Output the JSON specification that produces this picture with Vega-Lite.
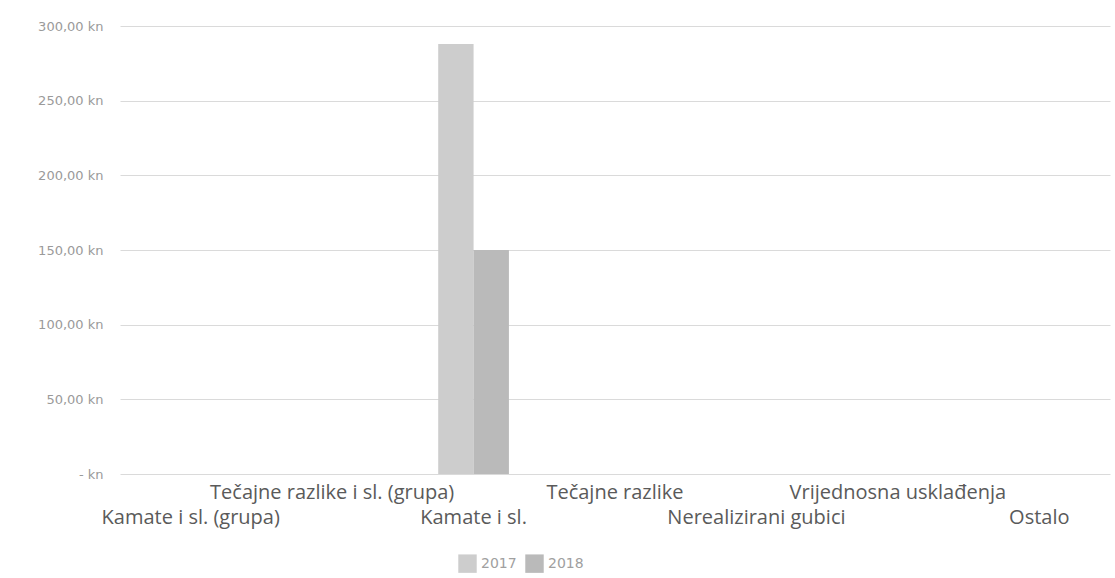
{
  "$schema": "https://vega.github.io/schema/vega-lite/v6.json",
  "autosize": "none",
  "width": 990,
  "height": 448,
  "padding": {"left": 120, "top": 26, "right": 5, "bottom": 104},
  "background": "white",
  "data": {
    "values": [
      {"kategorija": "Kamate i sl. (grupa)", "godina": "2017", "iznos": 0},
      {"kategorija": "Kamate i sl. (grupa)", "godina": "2018", "iznos": 0},
      {"kategorija": "Tečajne razlike i sl. (grupa)", "godina": "2017", "iznos": 0},
      {"kategorija": "Tečajne razlike i sl. (grupa)", "godina": "2018", "iznos": 0},
      {"kategorija": "Kamate i sl.", "godina": "2017", "iznos": 288},
      {"kategorija": "Kamate i sl.", "godina": "2018", "iznos": 150},
      {"kategorija": "Tečajne razlike", "godina": "2017", "iznos": 0},
      {"kategorija": "Tečajne razlike", "godina": "2018", "iznos": 0},
      {"kategorija": "Nerealizirani gubici", "godina": "2017", "iznos": 0},
      {"kategorija": "Nerealizirani gubici", "godina": "2018", "iznos": 0},
      {"kategorija": "Vrijednosna usklađenja", "godina": "2017", "iznos": 0},
      {"kategorija": "Vrijednosna usklađenja", "godina": "2018", "iznos": 0},
      {"kategorija": "Ostalo", "godina": "2017", "iznos": 0},
      {"kategorija": "Ostalo", "godina": "2018", "iznos": 0}
    ]
  },
  "mark": {"type": "bar"},
  "encoding": {
    "x": {
      "field": "kategorija",
      "type": "nominal",
      "sort": null,
      "scale": {"paddingInner": 0.5, "paddingOuter": 0.25},
      "axis": {
        "title": null,
        "labelAngle": 0,
        "labelFont": "Open Sans",
        "labelFontSize": 20,
        "labelColor": "#5a5a5a",
        "labelOverlap": false,
        "labelLimit": 400,
        "ticks": false,
        "domain": false,
        "labelBaseline": "top",
        "labelPadding": {"expr": "indexof(['Tečajne razlike i sl. (grupa)', 'Tečajne razlike', 'Vrijednosna usklađenja'], datum.value) >= 0 ? 8 : 33"}
      }
    },
    "xOffset": {"field": "godina", "type": "nominal"},
    "y": {
      "field": "iznos",
      "type": "quantitative",
      "scale": {"domain": [0, 300], "nice": false},
      "axis": {
        "title": null,
        "values": [0, 50, 100, 150, 200, 250, 300],
        "labelExpr": "datum.value == 0 ? '-   kn' : replace(format(datum.value, '.2f'), '.', ',') + ' kn'",
        "labelFont": "DejaVu Sans",
        "labelFontSize": 13,
        "labelColor": "#9a9a9a",
        "labelPadding": 17,
        "ticks": false,
        "domain": false,
        "grid": true,
        "gridColor": "#dadada",
        "gridWidth": 1
      }
    },
    "color": {
      "field": "godina",
      "type": "nominal",
      "scale": {"domain": ["2017", "2018"], "range": ["#cdcdcd", "#bababa"]},
      "legend": {
        "title": null,
        "orient": "none",
        "direction": "horizontal",
        "legendX": 338,
        "legendY": 528,
        "symbolType": "square",
        "symbolSize": 340,
        "symbolStrokeWidth": 0,
        "labelFont": "DejaVu Sans",
        "labelFontSize": 14,
        "labelColor": "#a0a0a0",
        "columnPadding": 8
      }
    }
  },
  "config": {"view": {"stroke": null}}
}
